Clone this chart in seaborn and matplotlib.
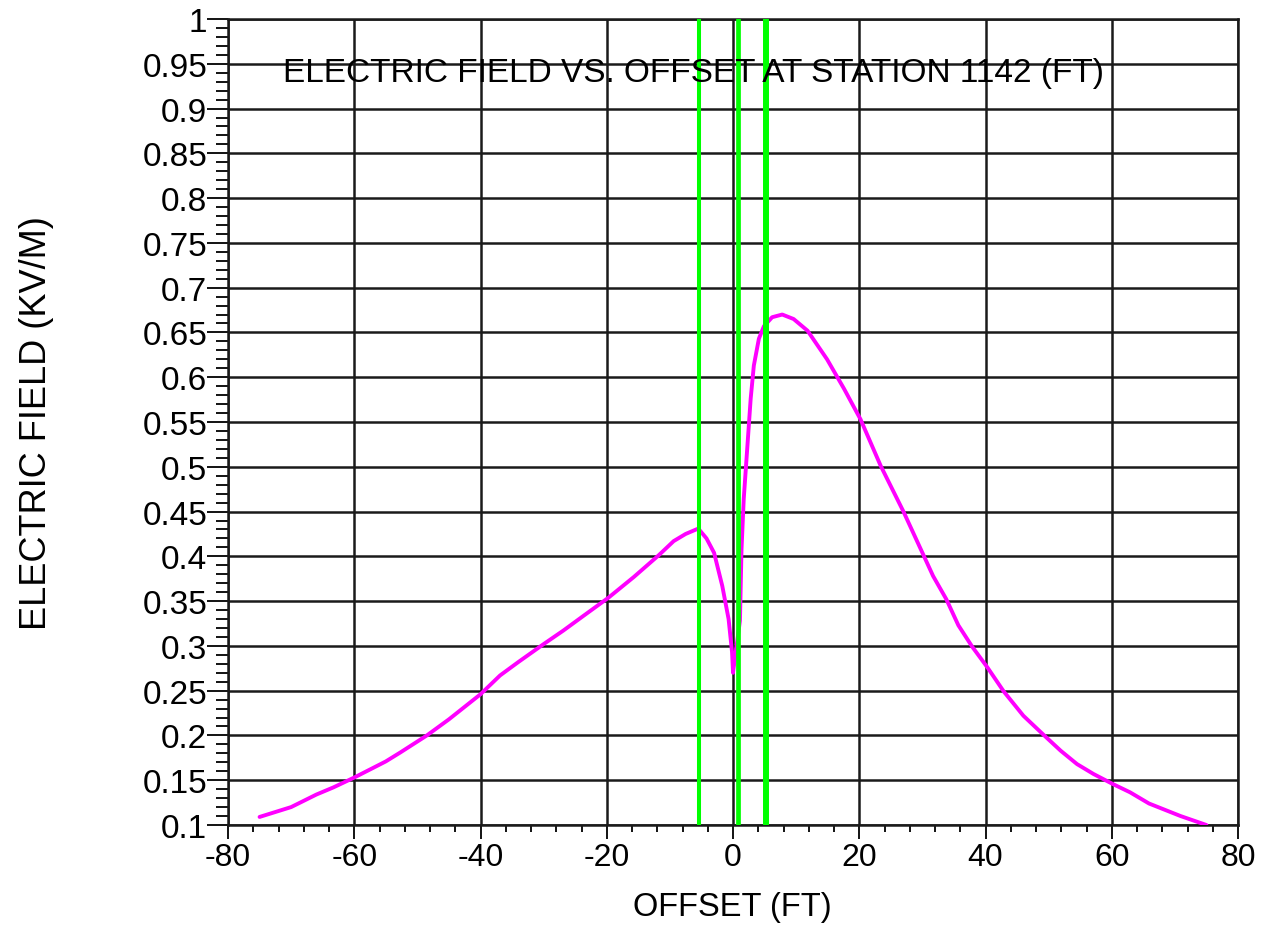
import seaborn as sns
import matplotlib.pyplot as plt
from matplotlib.ticker import MultipleLocator, FuncFormatter
import pandas as pd

# Electric field profile
offset_ft = [-75, -70, -68, -66, -63.3, -60, -55, -52.7, -48.5, -45, -40, -36.9,
             -34, -30, -26.9, -23.6, -19.7, -15.7, -11.8, -10.0, -9.4, -7.5,
             -5.5, -4.2, -3.0, -1.7, -0.7, -0.15, 0.0,
             1.1, 1.35, 1.7, 2.25, 2.8, 3.3, 4.1, 4.9, 6.2, 7.8, 9.6, 11.8, 14.9,
             17.6, 20.2, 23.4, 27.0, 30.2, 31.7, 33.8, 35.7, 37.9, 40.3, 42.9,
             46.0, 49.3, 51.9, 54.5, 57.1, 60.1, 62.9, 65.9, 70.9, 75]
efield_kvm = [0.109, 0.120, 0.127, 0.134, 0.142, 0.153, 0.171, 0.181, 0.200,
              0.218, 0.246, 0.267, 0.282, 0.302, 0.317, 0.334, 0.354, 0.377,
              0.401, 0.413, 0.417, 0.425,
              0.431, 0.420, 0.404, 0.367, 0.330, 0.293, 0.270,
              0.328, 0.408, 0.464, 0.520, 0.576, 0.613, 0.643, 0.657, 0.667,
              0.670, 0.665, 0.652, 0.620, 0.587, 0.553, 0.501, 0.450, 0.401,
              0.378, 0.352, 0.323, 0.299, 0.276, 0.249, 0.222, 0.200, 0.183,
              0.168, 0.157, 0.146, 0.1365, 0.124, 0.110, 0.100]

# conductor / marker positions (green verticals)
marker_x = [-5.4, 0.75, 5.2]
marker_w = [2.9, 3.4, 4.3]

title = "ELECTRIC FIELD VS. OFFSET AT STATION 1142 (FT)"

df = pd.DataFrame({'offset': offset_ft, 'efield': efield_kvm})

sns.set_theme(style='ticks')
plt.rcParams['font.family'] = ['Liberation Sans', 'DejaVu Sans']

fig = plt.figure(figsize=(12.61, 9.29), dpi=100)
ax = fig.add_axes([228 / 1261, 1 - 826 / 929, 1010 / 1261, 806 / 929])

sns.lineplot(data=df, x='offset', y='efield', color='#ff00ff', linewidth=2.8,
             estimator=None, sort=False, ax=ax, zorder=3)

for xv, w in zip(marker_x, marker_w):
    ax.axvline(xv, color='#00ff00', linewidth=w, zorder=4)

ax.set_xlim(-80, 80)
ax.set_ylim(0.1, 1)
ax.xaxis.set_major_locator(MultipleLocator(20))
ax.xaxis.set_minor_locator(MultipleLocator(4))
ax.yaxis.set_major_locator(MultipleLocator(0.05))
ax.yaxis.set_minor_locator(MultipleLocator(0.01))
ax.yaxis.set_major_formatter(FuncFormatter(lambda v, p: f"{v:g}"))
ax.xaxis.set_major_formatter(FuncFormatter(lambda v, p: f"{v:g}"))

ax.grid(True, which='major', color='#1a1a1a', linewidth=1.8, zorder=1)
ax.set_axisbelow(True)
for s in ax.spines.values():
    s.set_color('#1a1a1a')
    s.set_linewidth(1.8)

ax.tick_params(axis='y', which='major', length=15, width=1.3, pad=0, labelsize=24, colors='black')
ax.tick_params(axis='y', which='minor', length=9, width=1.3, colors='black')
ax.tick_params(axis='x', which='major', length=10, width=1.3, pad=2, labelsize=23, colors='black')
ax.tick_params(axis='x', which='minor', length=5, width=1.3, colors='black')

ax.set_xlabel('')
ax.set_ylabel('')
ax.text(0.4604, 0.934, title, transform=ax.transAxes, ha='center', va='center',
        fontsize=24, color='black', zorder=5)
fig.text(732 / 1261, 1 - 908 / 929, 'OFFSET (FT)', ha='center', va='center',
         fontsize=23.5, color='black')
fig.text(37 / 1261, 1 - 423 / 929, 'ELECTRIC FIELD (KV/M)', ha='center', va='center',
         rotation=90, fontsize=26, color='black')

fig.savefig('out.png', dpi=100)
